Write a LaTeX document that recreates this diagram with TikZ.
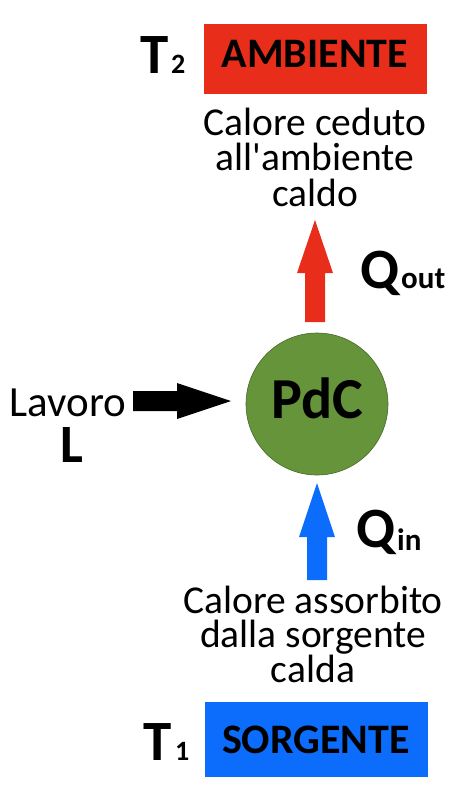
\documentclass[tikz,border=0pt]{standalone}
\usepackage{fontspec}
\setmainfont{Carlito}[Ligatures=TeXOff]
\definecolor{redbox}{RGB}{232,46,26}
\definecolor{bluebox}{RGB}{12,108,252}
\definecolor{greenc}{RGB}{102,148,58}
\definecolor{greenl}{RGB}{72,104,44}
\tikzset{
  boxstyle/.style={fill=#1,draw=none,minimum width=223pt,minimum height=70pt,inner sep=0pt},
  txt/.style={inner sep=0pt,anchor=base},
  body/.style={txt,align=center,font=\fontsize{39.5}{35.5}\selectfont},
  bigT/.style={txt,anchor=base west,font=\fontsize{57}{57}\selectfont\bfseries},
  subs/.style={txt,anchor=base west,font=\fontsize{28}{28}\selectfont\bfseries},
  subq/.style={txt,anchor=base west,font=\fontsize{31}{31}\selectfont\bfseries},
}
\begin{document}
\begin{tikzpicture}[x=1pt,y=-1pt]
\useasboundingbox (0,0) rectangle (474,807);
% top box
\node[boxstyle=redbox] (amb) at (315.5,58.5) {};
\node[txt,font=\fontsize{42}{42}\selectfont\bfseries] (ambt) at (315,67) {AMBIENTE};
\node[bigT] (t2) at (140,73) {T};
\node[subs] (t2s) at (171,73) {2};
% top text (base = last line's baseline)
\node[body] (c1) at (315,206) {Calore ceduto\\all'ambiente\\caldo};
% red arrow
\fill[redbox] (305,322) -- (305,273) -- (297,273) -- (315,220) -- (333,273) -- (325,273) -- (325,322) -- cycle;
\node[bigT] (qo) at (360,288) {Q};
\node[subq] (qos) at (401,288) {out};
% circle
\node[circle,fill=greenc,draw=greenl,line width=0.6pt,minimum size=142pt,inner sep=0pt] (pdc) at (317,404) {};
\node[txt,font=\fontsize{58}{58}\selectfont\bfseries] (pdct) at (317,418) {PdC};
% lavoro
\node[txt,font=\fontsize{43}{43}\selectfont] (lav) at (68,416) {Lavoro};
\node[txt,font=\fontsize{54}{54}\selectfont\bfseries] (lL) at (72,462) {L};
\fill[black] (133,391) -- (177,391) -- (177,383) -- (231,401) -- (177,419) -- (177,411) -- (133,411) -- cycle;
% blue arrow
\fill[bluebox] (307,580) -- (307,537) -- (299,537) -- (317,483) -- (335,537) -- (327,537) -- (327,580) -- cycle;
\node[bigT] (qi) at (356,547) {Q};
\node[subq] (qis) at (397,550) {in};
% bottom text
\node[body,font=\fontsize{39.5}{34.5}\selectfont] (d1) at (313,682) {Calore assorbito\\dalla sorgente\\calda};
% bottom box
\node[boxstyle=bluebox,minimum height=75pt] (sorg) at (316,739.5) {};
\node[txt,font=\fontsize{42}{42}\selectfont\bfseries] (sorgt) at (316,753) {SORGENTE};
\node[bigT] (t1) at (143,760) {T};
\node[subs] (t1s) at (175,760) {1};
\end{tikzpicture}
\end{document}
